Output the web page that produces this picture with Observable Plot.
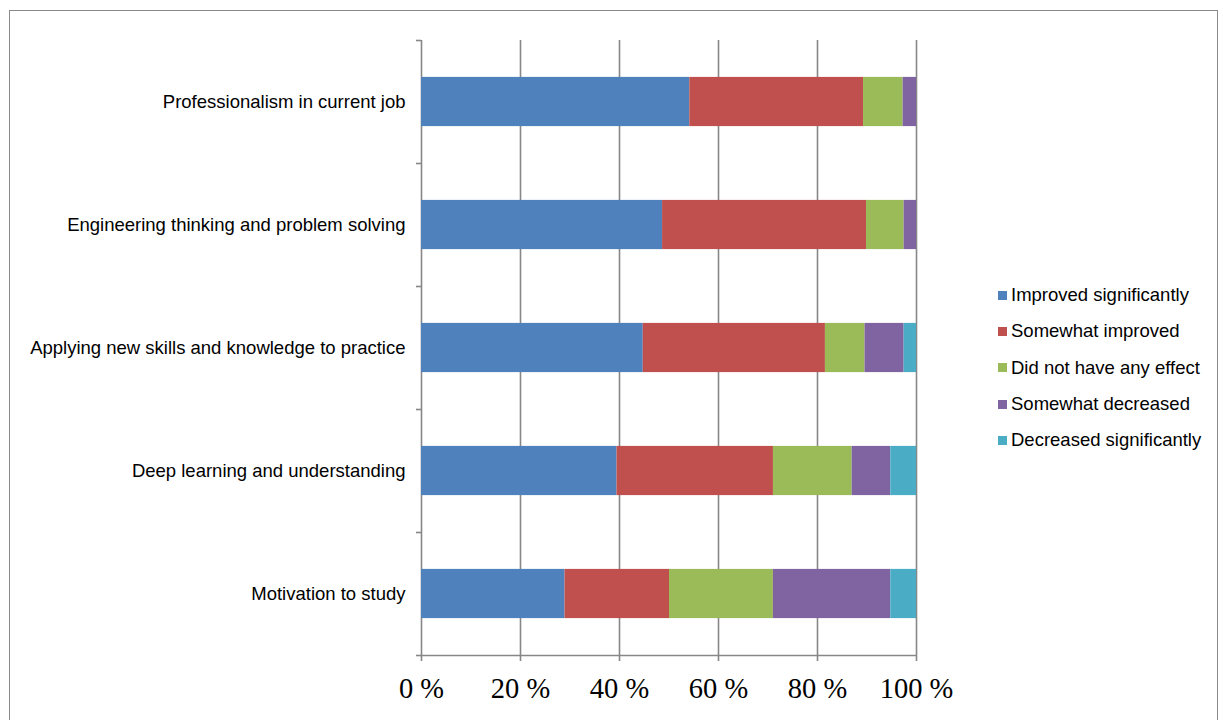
<!DOCTYPE html>
<html>
<head>
<meta charset="utf-8">
<script src="https://cdn.jsdelivr.net/npm/d3@7"></script>
<script src="https://cdn.jsdelivr.net/npm/@observablehq/plot@0.6"></script>
<style>
  html, body { margin: 0; padding: 0; background: #fff; }
  #wrap { position: relative; width: 1223px; height: 720px; overflow: hidden; }
  #frame { position: absolute; left: 9px; top: 10px; width: 1209px; height: 740px; border: 1.5px solid #8a8a8a; box-sizing: border-box; }
  #chart { position: absolute; left: 0; top: 0; }
  #legend { position: absolute; left: 998px; top: 277px; font-family: "Liberation Sans", Arial, sans-serif; font-size: 18.5px; color: #000; }
  .item { display: flex; align-items: center; height: 36.3px; white-space: nowrap; }
  .sw { width: 9px; height: 9px; margin-right: 4px; flex: none; }
</style>
</head>
<body>
<div id="wrap">
  <div id="frame"></div>
  <div id="chart"></div>
  <div id="legend"></div>
</div>
<script>
const categories = [
  "Professionalism in current job",
  "Engineering thinking and problem solving",
  "Applying new skills and knowledge to practice",
  "Deep learning and understanding",
  "Motivation to study"
];
const seriesNames = [
  "Improved significantly",
  "Somewhat improved",
  "Did not have any effect",
  "Somewhat decreased",
  "Decreased significantly"
];
const improvedSignificantly = [54.2, 48.7, 44.8, 39.5, 29.0];
const somewhatImproved      = [35.1, 41.2, 36.8, 31.6, 21.1];
const noEffect              = [8.0, 7.6, 8.0, 15.9, 21.0];
const somewhatDecreased     = [2.7, 2.5, 7.9, 7.8, 23.7];
const decreasedSignificantly= [0.0, 0.0, 2.5, 5.2, 5.2];
const xTicks = [0, 20, 40, 60, 80, 100];
const colors = ["#4F81BD", "#C0504D", "#9BBB59", "#8064A2", "#4BACC6"];

const seriesValues = [improvedSignificantly, somewhatImproved, noEffect, somewhatDecreased, decreasedSignificantly];

// Build stacked rows (cumulative, normalized to 100)
const rows = [];
categories.forEach((cat, i) => {
  const vals = seriesValues.map(s => s[i]);
  const total = d3.sum(vals);
  let acc = 0;
  vals.forEach((v, k) => {
    const x1 = acc / total * 100;
    acc += v;
    const x2 = acc / total * 100;
    rows.push({category: cat, index: i, series: seriesNames[k], x1, x2});
  });
});

const gridColor = "#878787";
const sans = "'Liberation Sans', Arial, sans-serif";

const chart = Plot.plot({
  width: 1223,
  height: 720,
  marginLeft: 421,
  marginRight: 307,
  marginTop: 40,
  marginBottom: 65,
  x: {domain: [0, 100]},
  y: {domain: [0, categories.length], reverse: true},
  color: {domain: seriesNames, range: colors},
  style: {background: "transparent", overflow: "visible"},
  marks: [
    Plot.ruleX(xTicks, {stroke: gridColor, strokeWidth: 1.6}),
    Plot.ruleY([categories.length], {stroke: gridColor, strokeWidth: 1.6}),
    Plot.rectX(rows.filter(d => d.x2 > d.x1), {
      x1: "x1", x2: "x2",
      y1: d => d.index + 0.3, y2: d => d.index + 0.7,
      fill: "series"
    }),
    Plot.axisY({ticks: d3.range(categories.length + 1), tickSize: 5, tickFormat: () => "", stroke: gridColor, strokeWidth: 1.6, label: null}),
    Plot.axisX({ticks: xTicks, tickSize: 6, tickPadding: 16, tickFormat: d => d + " %", stroke: gridColor, strokeWidth: 1.6, fontSize: 28.5, fontFamily: "'Liberation Serif', 'DejaVu Serif', serif", fill: "#000", label: null}),
    Plot.text(categories, {
      x: 0, y: (d, i) => i + 0.5, text: d => d,
      dx: -16, textAnchor: "end", fontSize: 18.5, fontFamily: sans, fill: "#000"
    })
  ]
});
document.getElementById("chart").appendChild(chart);

const legend = document.getElementById("legend");
seriesNames.forEach((name, k) => {
  const item = document.createElement("div");
  item.className = "item";
  const sw = document.createElement("span");
  sw.className = "sw";
  sw.style.background = colors[k];
  const t = document.createElement("span");
  t.textContent = name;
  item.appendChild(sw);
  item.appendChild(t);
  legend.appendChild(item);
});
</script>
</body>
</html>
